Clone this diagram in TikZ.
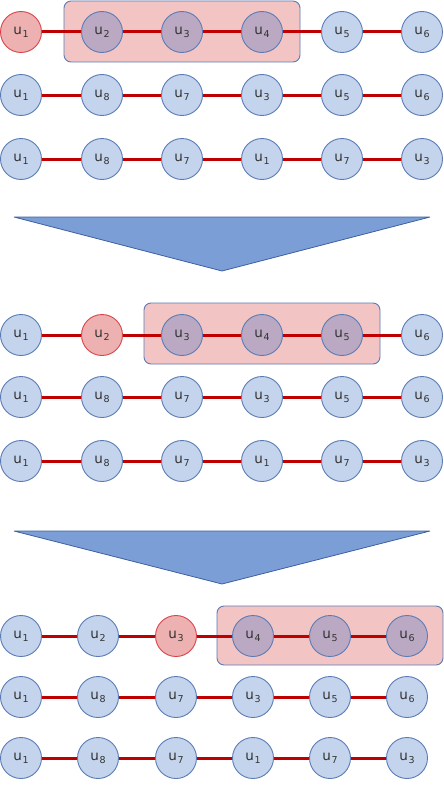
\documentclass[tikz,border=0pt]{standalone}
\usepackage{fontspec}
\setmainfont{DejaVu Sans}
\definecolor{nodeblue}{HTML}{C5D4ED}
\definecolor{nodeedge}{HTML}{5B7BB5}
\definecolor{nodered}{HTML}{EDB1B1}
\definecolor{rededge}{HTML}{D9454A}
\definecolor{nodepurp}{HTML}{BBA9C3}
\definecolor{boxfill}{HTML}{F2C4C4}
\definecolor{linkred}{HTML}{C00000}
\definecolor{arrowfill}{HTML}{7C9ED7}
\definecolor{arrowedge}{HTML}{3E5F9E}
\newcommand{\ulab}[1]{u\kern0.5pt{\fontsize{9.5pt}{9.5pt}\selectfont\raisebox{-2.6pt}{#1}}}
\tikzset{
  vnode/.style={circle, draw=nodeedge, line width=0.9pt, fill=nodeblue, minimum size=41pt, inner sep=0pt, text=black!80, font=\fontsize{13.5pt}{14pt}\selectfont},
  rnode/.style={vnode, draw=rededge, fill=nodered},
  pnode/.style={vnode, fill=nodepurp},
  link/.style={draw=linkred, line width=3pt},
  hlbox/.style={draw=nodeedge, line width=0.9pt, fill=boxfill, rounded corners=7pt},
  bigarrow/.style={draw=arrowedge, line width=0.8pt, fill=arrowfill, line join=bevel},
}
\begin{document}
\begin{tikzpicture}[x=1pt, y=-1pt]
\useasboundingbox (0,0) rectangle (444,800);
% ---------- top section ----------
\draw[hlbox] (64,1) rectangle (300,62);
\node[rnode] (a11) at (21,32) {\ulab{1}};
\node[pnode] (a12) at (102,32) {\ulab{2}};
\node[pnode] (a13) at (182,32) {\ulab{3}};
\node[pnode] (a14) at (262,32) {\ulab{4}};
\node[vnode] (a15) at (342,32) {\ulab{5}};
\node[vnode] (a16) at (422,32) {\ulab{6}};
\node[vnode] (a21) at (21,95) {\ulab{1}};
\node[vnode] (a22) at (102,95) {\ulab{8}};
\node[vnode] (a23) at (182,95) {\ulab{7}};
\node[vnode] (a24) at (262,95) {\ulab{3}};
\node[vnode] (a25) at (342,95) {\ulab{5}};
\node[vnode] (a26) at (422,95) {\ulab{6}};
\node[vnode] (a31) at (21,159) {\ulab{1}};
\node[vnode] (a32) at (102,159) {\ulab{8}};
\node[vnode] (a33) at (182,159) {\ulab{7}};
\node[vnode] (a34) at (262,159) {\ulab{1}};
\node[vnode] (a35) at (342,159) {\ulab{7}};
\node[vnode] (a36) at (422,159) {\ulab{3}};
% ---------- arrow 1 ----------
\draw[bigarrow] (14,217) coordinate (p1) -- (430,217) coordinate (p2) -- (222,271) coordinate (p3) -- cycle;
% ---------- middle section ----------
\draw[hlbox] (144,303) rectangle (380,364);
\node[vnode] (b11) at (21,335) {\ulab{1}};
\node[rnode] (b12) at (102,335) {\ulab{2}};
\node[pnode] (b13) at (182,335) {\ulab{3}};
\node[pnode] (b14) at (262,335) {\ulab{4}};
\node[pnode] (b15) at (342,335) {\ulab{5}};
\node[vnode] (b16) at (422,335) {\ulab{6}};
\node[vnode] (b21) at (21,397) {\ulab{1}};
\node[vnode] (b22) at (102,397) {\ulab{8}};
\node[vnode] (b23) at (182,397) {\ulab{7}};
\node[vnode] (b24) at (262,397) {\ulab{3}};
\node[vnode] (b25) at (342,397) {\ulab{5}};
\node[vnode] (b26) at (422,397) {\ulab{6}};
\node[vnode] (b31) at (21,461) {\ulab{1}};
\node[vnode] (b32) at (102,461) {\ulab{8}};
\node[vnode] (b33) at (182,461) {\ulab{7}};
\node[vnode] (b34) at (262,461) {\ulab{1}};
\node[vnode] (b35) at (342,461) {\ulab{7}};
\node[vnode] (b36) at (422,461) {\ulab{3}};
% ---------- arrow 2 ----------
\draw[bigarrow] (14,531) coordinate (q1) -- (430,531) coordinate (q2) -- (222,584) coordinate (q3) -- cycle;
% ---------- bottom section ----------
\draw[hlbox] (217,606) rectangle (443,665);
\node[vnode] (c11) at (21,636) {\ulab{1}};
\node[vnode] (c12) at (98,636) {\ulab{2}};
\node[rnode] (c13) at (176,636) {\ulab{3}};
\node[pnode] (c14) at (253,636) {\ulab{4}};
\node[pnode] (c15) at (330,636) {\ulab{5}};
\node[pnode] (c16) at (407,636) {\ulab{6}};
\node[vnode] (c21) at (21,697) {\ulab{1}};
\node[vnode] (c22) at (98,697) {\ulab{8}};
\node[vnode] (c23) at (176,697) {\ulab{7}};
\node[vnode] (c24) at (253,697) {\ulab{3}};
\node[vnode] (c25) at (330,697) {\ulab{5}};
\node[vnode] (c26) at (407,697) {\ulab{6}};
\node[vnode] (c31) at (21,758) {\ulab{1}};
\node[vnode] (c32) at (98,758) {\ulab{8}};
\node[vnode] (c33) at (176,758) {\ulab{7}};
\node[vnode] (c34) at (253,758) {\ulab{1}};
\node[vnode] (c35) at (330,758) {\ulab{7}};
\node[vnode] (c36) at (407,758) {\ulab{3}};
% ---------- links ----------
\foreach \s in {a,b,c}{
  \foreach \r in {1,2,3}{
    \foreach \i/\j in {1/2,2/3,3/4,4/5,5/6}{
      \draw[link] (\s\r\i) -- (\s\r\j);
    }
  }
}
\end{tikzpicture}
\end{document}
